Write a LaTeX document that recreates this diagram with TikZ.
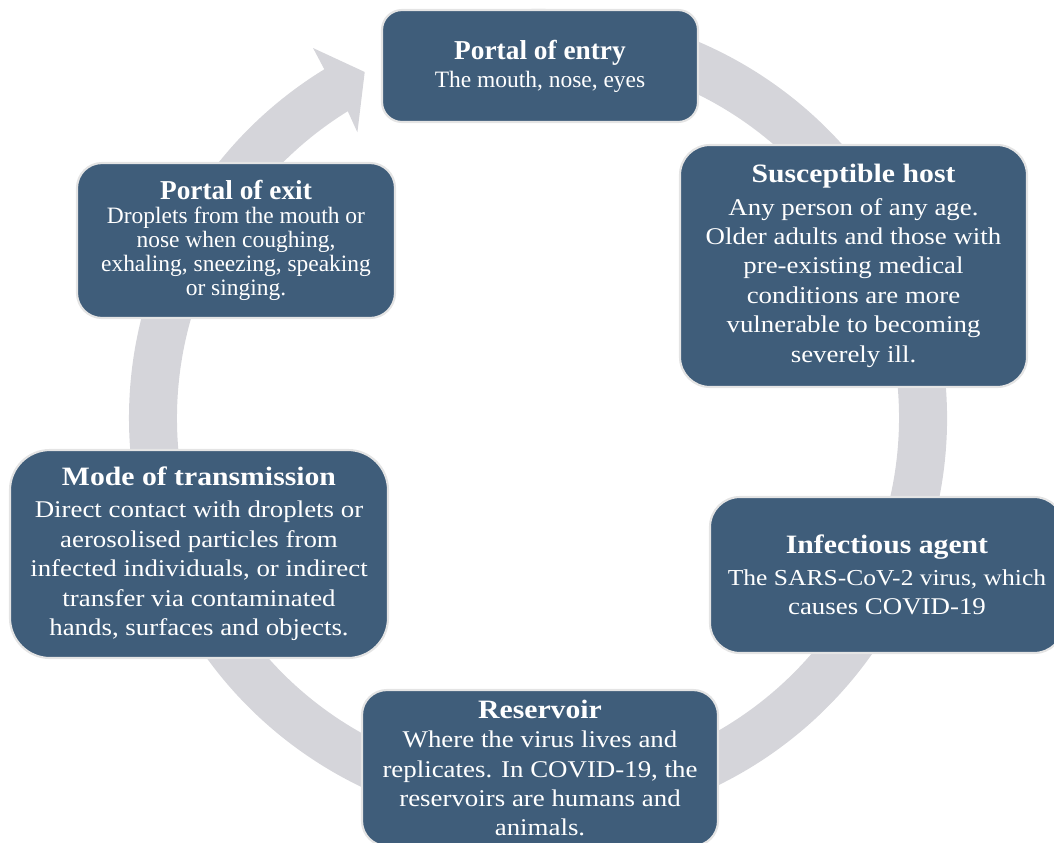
\documentclass[tikz,border=0pt]{standalone}
\usepackage{fontspec}
\setmainfont{Liberation Serif}
\newfontfamily\palfont[FakeStretch=1.12]{Liberation Serif}
\definecolor{boxblue}{HTML}{3F5D7A}
\definecolor{ringgray}{HTML}{D5D5DA}
\definecolor{boxedge}{HTML}{E4E4E4}
\newcommand\paltitle[1]{{\bfseries\fontsize{19.9}{22.1}\selectfont #1}}
\newcommand\tmstitle[1]{{\bfseries\fontsize{20.5}{20}\selectfont #1}}
\begin{document}
\begin{tikzpicture}[x=0.75pt,y=-0.75pt,
  box/.style={draw=boxedge, line width=1.6pt, fill=boxblue, text=white, align=center, inner sep=0pt},
  palstyle/.style={font=\palfont\fontsize{18}{22.1}\selectfont},
  tmsstyle/.style={font=\fontsize{17.6}{18}\selectfont}]
\useasboundingbox (0,0) rectangle (1054,843);
\clip (0,0) rectangle (1054,843);
% ring arrow
\begin{scope}[shift={(538,418)}]
\fill[ringgray] (260:409) arc[start angle=260, end angle=598.5, radius=409]
  -- (598.7:433) -- (603.4:387) -- (597.7:338) -- (598.2:361)
  arc[start angle=598.2, end angle=260, radius=361] -- cycle;
\end{scope}
% boxes
\node[box, tmsstyle, minimum width=237pt, minimum height=84pt, rounded corners=15pt] (entry) at (540,66)
  {\tmstitle{Portal of entry}\\[3pt] The mouth, nose, eyes};
\node[box, palstyle, minimum width=260.25pt, minimum height=181.5pt, rounded corners=22.5pt] (host) at (853.5,266)
  {\paltitle{Susceptible host}\\[2pt] Any person of any age.\\ Older adults and those with\\ pre-existing medical\\ conditions are more\\ vulnerable to becoming\\ severely ill.};
\node[box, palstyle, minimum width=265.5pt, minimum height=117pt, rounded corners=22.5pt] (agent) at (887,575)
  {\paltitle{Infectious agent}\\[2pt] {\fontsize{17.1}{22.1}\selectfont The SARS-CoV-2 virus, which}\\ causes COVID-19};
\node[box, palstyle, minimum width=267pt, minimum height=117pt, rounded corners=18.75pt] (reservoir) at (540,768)
  {\paltitle{Reservoir}\\ Where the virus lives and\\ replicates. In COVID-19, the\\ reservoirs are humans and\\ animals.};
\node[box, palstyle, minimum width=283.5pt, minimum height=156pt, rounded corners=30pt] (mode) at (199,554)
  {\paltitle{Mode of transmission}\\[2pt] Direct contact with droplets or\\ aerosolised particles from\\ infected individuals, or indirect\\ transfer via contaminated\\ hands, surfaces and objects.};
\node[box, tmsstyle, minimum width=238.5pt, minimum height=116.25pt, rounded corners=18.75pt] (exit) at (236,240.5)
  {\tmstitle{Portal of exit}\\ Droplets from the mouth or\\ nose when coughing,\\ exhaling, sneezing, speaking\\ or singing.};
\end{tikzpicture}
\end{document}
